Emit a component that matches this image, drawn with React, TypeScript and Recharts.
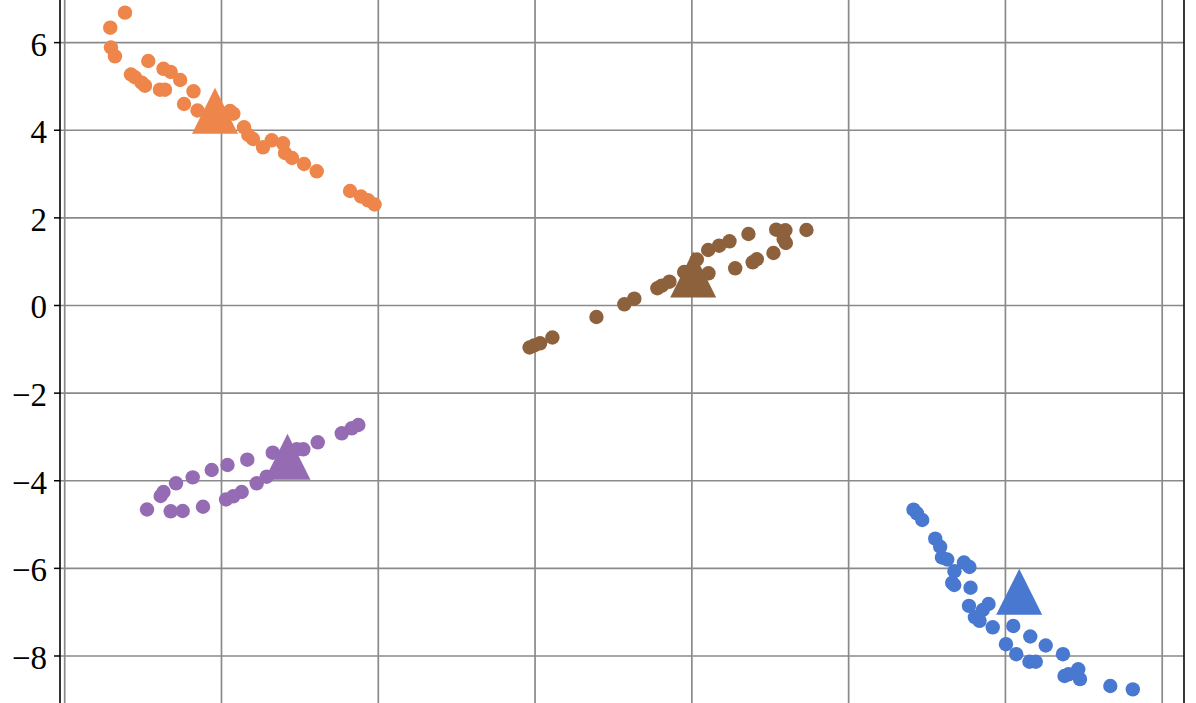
import React from "react";
import { ScatterChart, Scatter, XAxis, YAxis, CartesianGrid } from "recharts";

// Cluster points (x, y)
const orangeX = [-7.231, -7.419, -7.41, -7.359, -7.155, -7.104, -7.018, -6.976, -6.934, -6.74, -6.647, -6.527, -6.785, -6.721, -6.357, -6.478, -6.306, -5.891, -5.849, -5.713, -5.658, -5.598, -5.47, -5.359, -5.215, -5.19, -5.1, -4.947, -4.785, -4.36, -4.22, -4.13, -4.047];
const orangeY = [6.684, 6.341, 5.889, 5.688, 5.273, 5.209, 5.086, 5.017, 5.581, 5.403, 5.33, 5.147, 4.926, 4.926, 4.889, 4.599, 4.451, 4.44, 4.378, 4.068, 3.892, 3.801, 3.611, 3.771, 3.702, 3.481, 3.367, 3.23, 3.063, 2.614, 2.488, 2.401, 2.305];

const brownX = [-2.07, -2.012, -1.936, -1.779, -1.217, -0.861, -0.734, -0.44, -0.383, -0.286, 0.064, 0.212, 0.208, 0.348, 0.48, 0.722, 0.553, 0.776, 0.829, 1.041, 1.076, 1.193, 1.199, 1.171, 1.462, -0.098];
const brownY = [-0.959, -0.913, -0.863, -0.73, -0.262, 0.027, 0.155, 0.393, 0.452, 0.543, 1.05, 0.735, 1.267, 1.365, 1.465, 1.632, 0.849, 0.986, 1.055, 1.198, 1.73, 1.717, 1.427, 1.518, 1.723, 0.765];

const purpleX = [-6.95, -6.776, -6.74, -6.58, -6.367, -6.125, -5.923, -5.671, -5.346, -4.956, -4.772, -4.466, -4.338, -4.254, -6.648, -6.495, -6.236, -5.942, -5.849, -5.742, -5.551, -5.423, -5.04];
const purpleY = [-4.657, -4.348, -4.257, -4.058, -3.922, -3.755, -3.641, -3.52, -3.36, -3.282, -3.123, -2.917, -2.803, -2.728, -4.698, -4.691, -4.593, -4.428, -4.355, -4.257, -4.058, -3.908, -3.282];

const blueX = [2.828, 2.871, 2.939, 3.105, 3.168, 3.19, 3.258, 3.471, 3.541, 3.35, 3.321, 3.347, 3.555, 3.535, 3.785, 3.711, 3.611, 3.67, 3.838, 4.1, 4.007, 4.317, 4.514, 4.138, 4.307, 4.387, 4.734, 4.929, 4.754, 4.805, 4.951, 5.338, 5.625];
const blueY = [-4.661, -4.743, -4.896, -5.323, -5.506, -5.752, -5.798, -5.866, -5.969, -6.065, -6.33, -6.38, -6.442, -6.855, -6.814, -6.951, -7.115, -7.197, -7.345, -7.316, -7.731, -7.555, -7.761, -7.959, -8.131, -8.131, -7.959, -8.302, -8.457, -8.418, -8.526, -8.685, -8.761];

// Cluster centres (triangles)
const centerNames = ["orange", "brown", "purple", "blue"];
const centerX = [-6.083, 0.017, -5.158, 4.176];
const centerY = [4.447, 0.708, -3.451, -6.535];

const xTicks = [-8, -6, -4, -2, 0, 2, 4, 6];
const yTicks = [-8, -6, -4, -2, 0, 2, 4, 6];
const xDomain: [number, number] = [-8.06, 6.278];
const yDomain: [number, number] = [-9.073, 6.973];

const COLORS: Record<string, string> = {
  orange: "#EE854A",
  brown: "#8C613C",
  purple: "#956CB4",
  blue: "#4878D0",
};

const zip = (xs: number[], ys: number[]) => xs.map((x, i) => ({ x, y: ys[i] }));

const orangeData = zip(orangeX, orangeY);
const brownData = zip(brownX, brownY);
const purpleData = zip(purpleX, purpleY);
const blueData = zip(blueX, blueY);

const fmt = (v: number) => (v < 0 ? "\u2212" + Math.abs(v) : String(v));

const makeDot = (color: string) => (props: any) => {
  const { cx, cy } = props;
  if (cx == null || cy == null) return <g />;
  return <circle cx={cx} cy={cy} r={7.2} fill={color} />;
};

const makeTri = (color: string) => (props: any) => {
  const { cx, cy } = props;
  if (cx == null || cy == null) return <g />;
  const h = 23;
  const pts = `${cx},${cy - h} ${cx - h},${cy + h} ${cx + h},${cy + h}`;
  return <polygon points={pts} fill={color} />;
};

const YTick = (props: any) => {
  const { x, y, payload } = props;
  return (
    <text
      x={x}
      y={y}
      dy={13}
      textAnchor="end"
      fontFamily="'Liberation Serif', 'DejaVu Serif', serif"
      fontSize={33}
      fill="#000"
    >
      {fmt(payload.value)}
    </text>
  );
};

// chart geometry
const CHART_W = 1196;
const CHART_H = 703;
const LEFT_AXIS_W = 60;
const RIGHT_AXIS_W = 12;

const vGen = (p: any) => {
  const off = p?.offset ?? {};
  const left = typeof off.left === "number" ? off.left : LEFT_AXIS_W;
  const width = typeof off.width === "number" ? off.width : CHART_W - LEFT_AXIS_W - RIGHT_AXIS_W;
  return xTicks.map((t) => left + ((t - xDomain[0]) / (xDomain[1] - xDomain[0])) * width);
};

const hGen = (p: any) => {
  const off = p?.offset ?? {};
  const top = typeof off.top === "number" ? off.top : 0;
  const height = typeof off.height === "number" ? off.height : CHART_H;
  return yTicks.map((t) => top + ((yDomain[1] - t) / (yDomain[1] - yDomain[0])) * height);
};

export default function App() {
  return (
    <div style={{ position: "absolute", left: 0, top: 0, background: "#fff" }}>
      <ScatterChart
        width={CHART_W}
        height={CHART_H}
        margin={{ top: 0, right: 0, bottom: 0, left: 0 }}
      >
        <CartesianGrid
          stroke="#8a8a8a"
          strokeWidth={1.7}
          verticalCoordinatesGenerator={vGen}
          horizontalCoordinatesGenerator={hGen}
        />
        <XAxis
          type="number"
          dataKey="x"
          domain={xDomain}
          ticks={xTicks}
          allowDataOverflow
          height={0}
          tick={false}
          tickLine={false}
          axisLine={false}
        />
        <YAxis
          type="number"
          dataKey="y"
          domain={yDomain}
          ticks={yTicks}
          allowDataOverflow
          width={LEFT_AXIS_W}
          tickSize={6}
          tickMargin={7}
          tickLine={{ stroke: "#000", strokeWidth: 1.5 }}
          axisLine={{ stroke: "#000", strokeWidth: 1.6 }}
          tick={<YTick />}
        />
        <YAxis
          yAxisId="right"
          orientation="right"
          type="number"
          domain={yDomain}
          allowDataOverflow
          width={RIGHT_AXIS_W}
          tick={false}
          tickLine={false}
          axisLine={{ stroke: "#222", strokeWidth: 1.8 }}
        />
        <Scatter data={orangeData} shape={makeDot(COLORS.orange)} isAnimationActive={false} />
        <Scatter data={brownData} shape={makeDot(COLORS.brown)} isAnimationActive={false} />
        <Scatter data={purpleData} shape={makeDot(COLORS.purple)} isAnimationActive={false} />
        <Scatter data={blueData} shape={makeDot(COLORS.blue)} isAnimationActive={false} />
        {centerNames.map((n, i) => (
          <Scatter
            key={n}
            data={[{ x: centerX[i], y: centerY[i] }]}
            shape={makeTri(COLORS[n])}
            isAnimationActive={false}
          />
        ))}
      </ScatterChart>
    </div>
  );
}
